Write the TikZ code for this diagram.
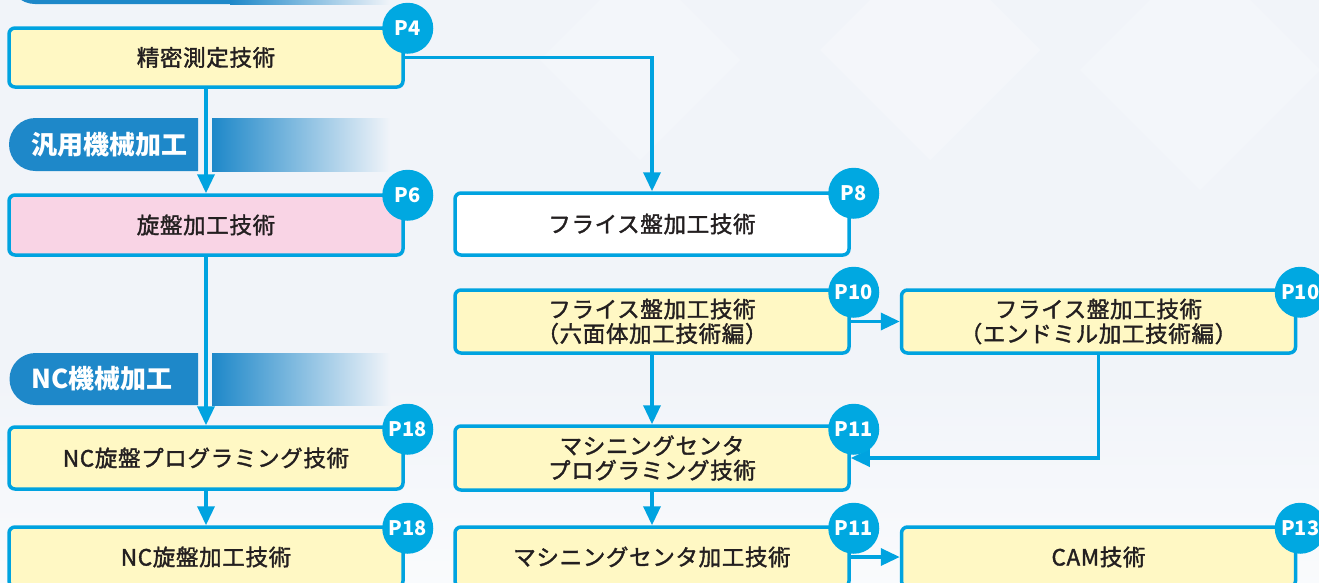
\documentclass[tikz,border=0pt]{standalone}
\usepackage{fontspec}
\newfontfamily\jp[FakeBold=1.6,LetterSpace=3]{Noto Sans CJK JP}
\newfontfamily\jpb{Noto Sans CJK JP}
\usetikzlibrary{arrows.meta}
\definecolor{bgc}{HTML}{F1F4F9}
\definecolor{lineblue}{HTML}{00A3E0}
\definecolor{badgeblue}{HTML}{00A8E1}
\definecolor{hdr}{HTML}{1E88C9}
\definecolor{boxyellow}{HTML}{FFF8C4}
\definecolor{boxpink}{HTML}{F9D4E5}
\definecolor{txt}{HTML}{231F20}
\tikzset{
  box/.style={draw=lineblue, line width=3.5pt, rounded corners=6pt, fill=boxyellow,
    minimum width=394pt, minimum height=61pt, inner sep=0pt, align=center,
    text=txt, font=\jp\fontsize{22.5}{24.5}\selectfont},
  badge/.style={circle, fill=badgeblue, minimum size=51pt, inner sep=0pt,
    text=white, font=\jpb\bfseries\fontsize{20}{20}\selectfont},
  conn/.style={draw=lineblue, line width=3.5pt, -{Triangle[width=17pt,length=19pt]}},
  hdrtext/.style={anchor=west, text=white, inner sep=0pt, font=\jpb\bfseries\fontsize{26}{26}\selectfont}
}
\begin{document}
\begin{tikzpicture}[x=1pt,y=-1pt]
\useasboundingbox (0,0) rectangle (1319,582);
\clip (0,0) rectangle (1319,582);
\fill[bgc] (0,0) rectangle (1319,582);
% faint background diamonds
\fill[white, opacity=0.25] (930,-60) -- (1040,50) -- (930,160) -- (820,50) -- cycle;
\fill[white, opacity=0.2] (640,-40) -- (740,60) -- (640,160) -- (540,60) -- cycle;
\fill[white, opacity=0.2] (1200,-50) -- (1320,70) -- (1200,190) -- (1080,70) -- cycle;
\shade[top color=bgc, bottom color=white!60!bgc] (0,380) rectangle (1319,582);
% top header remnant
\fill[hdr] (230,-48) -- (35,-48) arc[start angle=270,end angle=90,radius=26] -- (230,4) -- cycle;
\shade[left color=hdr, right color=bgc] (230,-48) rectangle (390,4);
% header 1
\fill[hdr] (198,118) -- (35.5,118) arc[start angle=270,end angle=90,radius=26.5] -- (198,171) -- cycle;
\shade[left color=hdr, right color=bgc] (212,118) rectangle (390,171);
\node[hdrtext] (h1) at (31,144.5) {汎用機械加工};
% header 2
\fill[hdr] (198,353) -- (35.5,353) arc[start angle=270,end angle=90,radius=26] -- (198,405) -- cycle;
\shade[left color=hdr, right color=bgc] (212,353) rectangle (390,405);
\node[hdrtext] (h2) at (31,379) {NC機械加工};
% boxes
\node[box, minimum height=59pt] (b1) at (206,57.5) {精密測定技術};
\node[box, fill=boxpink, minimum height=60pt] (b2) at (206,225) {旋盤加工技術};
\node[box, fill=white, minimum height=62pt] (b3) at (652,224) {フライス盤加工技術};
\node[box, minimum height=63pt] (b4) at (652,321.5) {フライス盤加工技術\\（六面体加工技術編）};
\node[box, minimum height=63pt] (b5) at (1098.5,321.5) {フライス盤加工技術\\（エンドミル加工技術編）};
\node[box, minimum height=64pt] (b6) at (652,458) {マシニングセンタ\\プログラミング技術};
\node[box, minimum height=62pt] (b7) at (206,458) {NC旋盤プログラミング技術};
\node[box, minimum height=60pt] (b8) at (206,557) {NC旋盤加工技術};
\node[box, minimum height=60pt] (b9) at (652,557) {マシニングセンタ加工技術};
\node[box, minimum height=60pt] (b10) at (1098.5,557) {CAM技術};
% connectors
\draw[conn] (b1.south) -- (b2.north);
\draw[conn] (b1.east) -| (b3.north);
\draw[conn] (b2.south) -- (b7.north);
\draw[conn] (b7.south) -- (b8.north);
\draw[conn] (b4.east) -- (b5.west);
\draw[conn] (b4.south) -- (b6.north);
\draw[conn] (b5.south) |- (b6.east);
\draw[conn] (b6.south) -- (b9.north);
\draw[conn] (b9.east) -- (b10.west);
% badges
\node[badge] (p1) at ([shift={(3,2)}]b1.north east) {P4};
\node[badge] (p2) at ([shift={(3,2)}]b2.north east) {P6};
\node[badge] (p3) at ([shift={(3,2)}]b3.north east) {P8};
\node[badge] (p4) at ([shift={(3,4)}]b4.north east) {P10};
\node[badge] (p5) at ([shift={(3,4)}]b5.north east) {P10};
\node[badge] (p6) at ([shift={(3,5)}]b6.north east) {P11};
\node[badge] (p7) at ([shift={(3,4)}]b7.north east) {P18};
\node[badge] (p8) at ([shift={(3,3)}]b8.north east) {P18};
\node[badge] (p9) at ([shift={(3,3)}]b9.north east) {P11};
\node[badge] (p10) at ([shift={(3,3)}]b10.north east) {P13};
\end{tikzpicture}
\end{document}
